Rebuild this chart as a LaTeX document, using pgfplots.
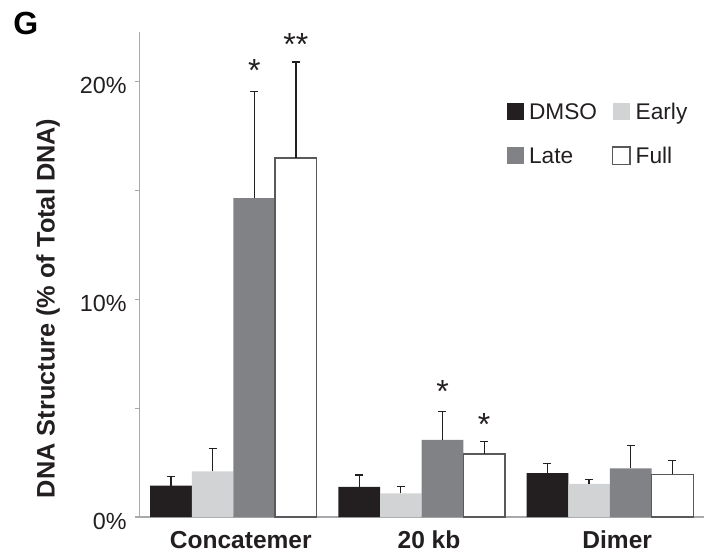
\documentclass[border=0pt]{standalone}
\usepackage{fontspec}
\setmainfont{Liberation Sans}
\usepackage{pgfplots}
\usepackage{pgfplotstable}
\pgfplotsset{compat=1.18}
\definecolor{cdmso}{HTML}{231F20}
\definecolor{cearly}{HTML}{D1D3D4}
\definecolor{clate}{HTML}{808285}
\definecolor{cfullb}{HTML}{58595B}
\definecolor{caxis}{HTML}{A7A9AC}

% groups at 0 = Concatemer, 1 = 20 kb, 2 = Dimer; bars placed side by side within a group
\pgfplotstableread{
x y e
-0.3318 1.44 0.41
0.6682 1.38 0.55
1.6682 2.02 0.43
}\dmso
\pgfplotstableread{
x y e
-0.1106 2.10 1.04
0.8894 1.09 0.32
1.8894 1.52 0.19
}\early
\pgfplotstableread{
x y e
0.1106 14.65 4.90
1.1106 3.54 1.30
2.1106 2.24 1.03
}\late
\pgfplotstableread{
x y e
0.3318 16.49 4.42
1.3318 2.90 0.58
2.3318 1.96 0.65
}\full

\begin{document}
\begin{tikzpicture}
\path[use as bounding box] (0,0) rectangle (534pt,415.5pt);
\node[anchor=base west, inner sep=0pt, font=\bfseries\fontsize{24}{28}\selectfont] at (9.75pt,389.25pt) {G};
\begin{axis}[
  at={(104.5pt,27.75pt)}, anchor=south west,
  scale only axis, width=423.5pt, height=364pt,
  xmin=-0.5, xmax=2.5, ymin=0, ymax=22.3,
  axis x line*=bottom, axis y line*=left,
  axis line style={color=caxis, line width=1pt, -},
  xtick={0,1,2}, xticklabels={Concatemer,20 kb,Dimer},
  major x tick style={draw=none},
  xticklabel style={font=\bfseries\fontsize{18.4}{22}\selectfont, anchor=base, yshift=-20.5pt, xshift=5.5pt, text=cdmso},
  ytick={0,10,20}, yticklabels={0\%,10\%,20\%}, minor ytick={5,15},
  tick align=outside, major tick length=3pt, minor tick length=3pt,
  y tick style={color=caxis, line width=0.8pt},
  yticklabel style={font=\fontsize{17.5}{20}\selectfont, text=cdmso, yshift=-3pt, xshift=-3pt},
  ylabel={DNA Structure (\% of Total DNA)},
  ylabel style={at={(axis description cs:-0.1617,0.43)}, anchor=center, font=\bfseries\fontsize{19}{22}\selectfont, text=cdmso},
  clip=false,
  sq legend/.style={legend image code/.code={\path[##1] (0pt,-6.5pt) rectangle (13pt,6.5pt);}},
  legend columns=2, legend cell align=left,
  legend style={at={(0.6506,0.8537)}, anchor=north west, draw=none, fill=none,
    inner sep=0pt, outer sep=0pt, row sep=19.75pt,
    font=\fontsize{17}{20}\selectfont, text=cdmso,
    nodes={inner sep=0pt, text height=12.2pt, text depth=0pt},
    /tikz/every odd column/.style={column sep=3.75pt},
    /tikz/every even column/.style={column sep=11.25pt}},
  eb/.style={error bars/.cd, y dir=plus, y explicit,
    error bar style={line width=0.9pt, color=cdmso},
    error mark options={rotate=90, mark size=3pt, line width=0.9pt, color=cdmso}},
]
\addplot[ybar, bar width=0.2212, bar shift=0, fill=cdmso, draw=none, sq legend, eb] table[x=x, y=y, y error=e] {\dmso};
\addlegendentry{DMSO}
\addplot[ybar, bar width=0.2212, bar shift=0, fill=cearly, draw=none, sq legend, eb] table[x=x, y=y, y error=e] {\early};
\addlegendentry{Early}
\addplot[ybar, bar width=0.2212, bar shift=0, fill=clate, draw=none, sq legend, eb] table[x=x, y=y, y error=e] {\late};
\addlegendentry{Late}
\addplot[ybar, bar width=0.2212, bar shift=0, fill=white, draw=cfullb, line width=1pt, sq legend, eb] table[x=x, y=y, y error=e] {\full};
\addlegendentry{Full}
\node[anchor=north, inner sep=0pt, font=\fontsize{24}{24}\selectfont, text=cdmso] at (axis cs:0.1106,21.04) {*};
\node[anchor=north, inner sep=0pt, font=\fontsize{24}{24}\selectfont, text=cdmso] at (axis cs:0.3318,22.24) {**};
\node[anchor=north, inner sep=0pt, font=\fontsize{24}{24}\selectfont, text=cdmso] at (axis cs:1.1106,6.30) {*};
\node[anchor=north, inner sep=0pt, font=\fontsize{24}{24}\selectfont, text=cdmso] at (axis cs:1.3318,4.77) {*};
\end{axis}
\end{tikzpicture}
\end{document}
